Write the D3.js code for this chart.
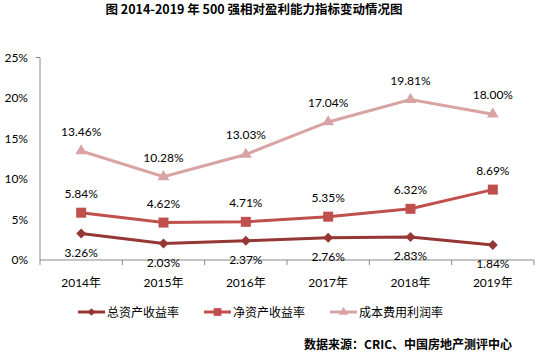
<!DOCTYPE html>
<html><head><meta charset="utf-8">
<script src="https://cdn.jsdelivr.net/npm/d3@7"></script>
<style>body{margin:0;background:#fff}svg{display:block}</style>
</head><body><svg id="c" width="538" height="353"></svg>
<script>
const years = ["2014年","2015年","2016年","2017年","2018年","2019年"];
const roa = [3.26,2.03,2.37,2.76,2.83,1.84];
const roe = [5.84,4.62,4.71,5.35,6.32,8.69];
const cpr = [13.46,10.28,13.03,17.04,19.81,18.00];
const yTicks = [0,5,10,15,20,25];
const seriesNames = ["总资产收益率","净资产收益率","成本费用利润率"];

const svg = d3.select("#c");
const font = "Lato, 'Noto Sans CJK SC', sans-serif";
const cjk = "'Noto Sans CJK SC', sans-serif";
const m = {l:40, r:534, t:57.5, b:260};
const x = d3.scaleBand().domain(years).range([m.l, m.r]);
const y = d3.scaleLinear().domain([0,25]).range([m.b, m.t]);
const cx = d => x(d) + x.bandwidth()/2;

svg.append("text").attr("x",254).attr("y",14).attr("text-anchor","middle")
  .attr("font-family",cjk).attr("font-weight","bold")
  .attr("font-size",12.5).attr("fill","#000").text("图 2014-2019 年 500 强相对盈利能力指标变动情况图");

// axes
const ax = "#898989";
svg.append("line").attr("x1",m.l).attr("x2",m.l).attr("y1",m.t).attr("y2",m.b).attr("stroke",ax);
svg.append("line").attr("x1",m.l-4).attr("x2",m.l).attr("y1",m.t).attr("y2",m.t).attr("stroke",ax);
svg.append("line").attr("x1",m.l).attr("x2",m.r).attr("y1",m.b).attr("y2",m.b).attr("stroke",ax);
const xTickPos = years.map(d=>x(d)).concat([m.r]);
svg.selectAll(".xt").data(xTickPos).enter().append("line")
  .attr("x1",d=>d).attr("x2",d=>d).attr("y1",m.b).attr("y2",m.b+5).attr("stroke",ax);
svg.selectAll(".yl").data(yTicks).enter().append("text")
  .attr("x",28).attr("y",d=>y(d)+4).attr("text-anchor","end")
  .attr("font-family",font).attr("font-size",12).attr("fill","#000").text(d=>d+"%");
svg.selectAll(".xl").data(years).enter().append("text")
  .attr("x",d=>cx(d)).attr("y",287).attr("text-anchor","middle")
  .attr("font-family",font).attr("font-size",12).attr("fill","#000").text(d=>d);

const colors = ["#953735","#C0504D","#D9A3A3"];
const data = [roa, roe, cpr];
const line = d3.line().x((d,i)=>cx(years[i])).y(d=>y(d));
const sym = [d3.symbolSquare, d3.symbolSquare, d3.symbolTriangle];
const symSize = [50, 100, 60];
const rot = [45, 0, 0];
data.forEach((s,k)=>{
  svg.append("path").attr("d",line(s)).attr("fill","none").attr("stroke",colors[k]).attr("stroke-width",3);
  svg.selectAll(".m"+k).data(s).enter().append("path")
    .attr("transform",(d,i)=>`translate(${cx(years[i])},${y(d)}) rotate(${rot[k]})`)
    .attr("d",d3.symbol().type(sym[k]).size(symSize[k])).attr("fill",colors[k]);
  svg.selectAll(".lab"+k).data(s).enter().append("text")
    .attr("x",(d,i)=>cx(years[i])).attr("y",d=> k===0 ? y(d)+23 : y(d)-15)
    .attr("text-anchor","middle").attr("font-family",font).attr("font-size",12).attr("fill","#000")
    .text(d=>d.toFixed(2)+"%");
});

// legend
const lx = [78, 204, 330];
seriesNames.forEach((n,k)=>{
  const g = svg.append("g").attr("transform",`translate(${lx[k]},312)`);
  g.append("line").attr("x1",0).attr("x2",27).attr("stroke",colors[k]).attr("stroke-width",3);
  g.append("path").attr("transform",`translate(13.5,0) rotate(${rot[k]})`).attr("d",d3.symbol().type(sym[k]).size(symSize[k]*0.6)).attr("fill",colors[k]);
  g.append("text").attr("x",29).attr("y",4.5).attr("font-family",cjk)
    .attr("font-size",12).attr("fill","#000").text(n);
});

svg.append("text").attr("x",512).attr("y",349).attr("text-anchor","end")
  .attr("font-family",cjk).attr("font-weight","bold")
  .attr("font-size",12).attr("fill","#000").text("数据来源：CRIC、中国房地产测评中心");
</script></body></html>
